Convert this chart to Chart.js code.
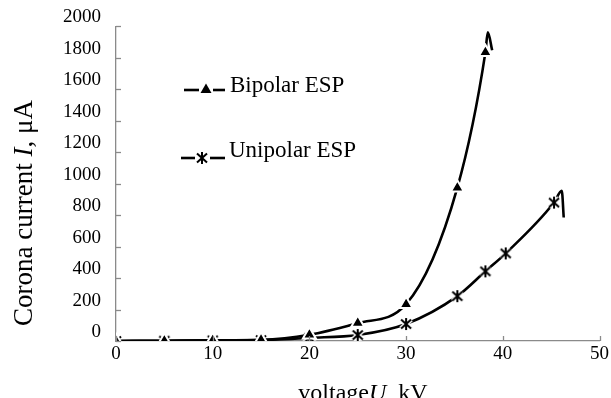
<!DOCTYPE html>
<html>
<head>
<title>Corona current vs voltage</title>
<script src="https://cdn.jsdelivr.net/npm/chart.js"></script>
<style>
  body { margin: 0; background: #fff; }
  .chart-container { position: relative; width: 611px; height: 398px; }
</style>
</head>
<body>
<div class="chart-container"><canvas id="myChart"></canvas></div>
<script>
// values (kV, µA)
const bipolarU = [0, 5, 10, 15, 20, 25, 30, 35.3, 38.2, 38.45, 38.9];
const bipolarI = [0, 2, 5, 8, 40, 114, 234, 975, 1835, 1962, 1848];
const unipolarU = [0, 5, 10, 15, 20, 25, 30, 35.3, 38.2, 40.3, 45.3, 46.1, 46.3];
const unipolarI = [0, 2, 4, 6, 20, 38, 108, 285, 443, 557, 880, 955, 785];
// only the first points carry a marker, the rest is the smoothing tail
const bipolarMarked = 9;
const unipolarMarked = 11;
const seriesNames = ['Bipolar ESP', 'Unipolar ESP'];
const xTicks = [0, 10, 20, 30, 40, 50];
const yTicks = [0, 200, 400, 600, 800, 1000, 1200, 1400, 1600, 1800, 2000];

const serif = '"Liberation Serif", "Times New Roman", serif';
const axisGrey = '#8a8a8a';

// asterisk marker
function makeStar() {
  const c = document.createElement('canvas');
  c.width = 18; c.height = 18;
  const g = c.getContext('2d');
  const arms = [[9, 3, 9, 15], [4, 4.5, 14, 13.5], [14, 4.5, 4, 13.5]];
  const stroke = (col, w) => {
    g.strokeStyle = col; g.lineWidth = w;
    arms.forEach(a => { g.beginPath(); g.moveTo(a[0], a[1]); g.lineTo(a[2], a[3]); g.stroke(); });
  };
  stroke('#fff', 5);
  stroke('#000', 2);
  return c;
}
const star = makeStar();

function toPoints(xs, ys) {
  return xs.map((x, i) => ({ x: x, y: ys[i] }));
}

// inner tick marks, axis titles and the in-plot legend
const extras = {
  id: 'extras',
  afterDraw(chart) {
    const ctx = chart.ctx;
    const xs = chart.scales.x, ys = chart.scales.y;
    const area = chart.chartArea;
    ctx.save();
    ctx.strokeStyle = axisGrey;
    ctx.lineWidth = 1.3;
    xTicks.forEach(v => {
      const px = Math.round(xs.getPixelForValue(v)) + 0.5;
      ctx.beginPath(); ctx.moveTo(px, area.bottom); ctx.lineTo(px, area.bottom - 5); ctx.stroke();
    });
    yTicks.forEach(v => {
      const py = Math.round(ys.getPixelForValue(v)) + 0.5;
      ctx.beginPath(); ctx.moveTo(area.left, py); ctx.lineTo(area.left + 5, py); ctx.stroke();
    });

    // axis titles with italic symbols
    const drawMixed = (parts, size) => {
      let total = 0;
      parts.forEach(p => {
        ctx.font = (p[1] ? 'italic ' : '') + size + 'px ' + serif;
        total += ctx.measureText(p[0]).width;
      });
      let x = -total / 2;
      parts.forEach(p => {
        ctx.font = (p[1] ? 'italic ' : '') + size + 'px ' + serif;
        ctx.fillText(p[0], x, 0);
        x += ctx.measureText(p[0]).width;
      });
    };
    ctx.fillStyle = '#000';
    ctx.textAlign = 'left';
    ctx.textBaseline = 'alphabetic';
    ctx.save();
    ctx.translate(363, 400);
    drawMixed([['voltage', false], ['U', true], [', kV', false]], 24);
    ctx.restore();
    ctx.save();
    ctx.translate(32, 213);
    ctx.rotate(-Math.PI / 2);
    drawMixed([['Corona current ', false], ['I', true], [', \u03bcA', false]], 27);
    ctx.restore();

    // legend
    ctx.strokeStyle = '#000';
    ctx.lineWidth = 2.6;
    const seg = (x1, x2, y) => { ctx.beginPath(); ctx.moveTo(x1, y); ctx.lineTo(x2, y); ctx.stroke(); };
    seg(184, 199, 90); seg(213, 225, 90);
    ctx.beginPath();
    ctx.moveTo(206, 83.5); ctx.lineTo(211.5, 93); ctx.lineTo(200.5, 93); ctx.closePath();
    ctx.fillStyle = '#000'; ctx.fill();
    seg(181, 195, 158); seg(210, 225, 158);
    ctx.drawImage(star, 202 - 9, 158 - 9);
    ctx.fillStyle = '#000';
    ctx.font = '23px ' + serif;
    ctx.textBaseline = 'middle';
    ctx.fillText(seriesNames[0], 230, 86);
    ctx.fillText(seriesNames[1], 229, 151);
    ctx.restore();
  }
};

const ctx = document.getElementById('myChart').getContext('2d');
const myChart = new Chart(ctx, {
  type: 'line',
  data: {
    datasets: [{
      label: seriesNames[0],
      data: toPoints(bipolarU, bipolarI),
      borderColor: '#000',
      borderWidth: 2.6,
      cubicInterpolationMode: 'monotone',
      pointStyle: 'triangle',
      pointRadius: c => c.dataIndex < bipolarMarked ? 7.5 : 0,
      pointBackgroundColor: '#000',
      pointBorderColor: '#fff',
      pointBorderWidth: 2
    }, {
      label: seriesNames[1],
      data: toPoints(unipolarU, unipolarI),
      borderColor: '#000',
      borderWidth: 2.6,
      cubicInterpolationMode: 'monotone',
      pointStyle: star,
      pointRadius: c => c.dataIndex < unipolarMarked ? 6 : 0
    }]
  },
  options: {
    responsive: true,
    maintainAspectRatio: false,
    animation: false,
    events: [],
    layout: { padding: { top: 25, right: 8, left: 0, bottom: 0 } },
    plugins: { legend: { display: false }, tooltip: { enabled: false } },
    scales: {
      x: {
        type: 'linear',
        min: 0, max: 50,
        afterBuildTicks: s => { s.ticks = xTicks.map(v => ({ value: v })); },
        afterFit: s => { s.height = 57; },
        grid: { drawOnChartArea: false, drawTicks: false },
        border: { color: axisGrey, width: 1.3 },
        ticks: { color: '#000', font: { family: serif, size: 19 }, padding: 2, maxRotation: 0,
                 callback: v => String(v) }
      },
      y: {
        min: 0, max: 2000,
        afterBuildTicks: s => { s.ticks = yTicks.map(v => ({ value: v })); },
        afterFit: s => { s.width = 116; },
        grid: { drawOnChartArea: false, drawTicks: false },
        border: { color: axisGrey, width: 1.3 },
        ticks: { color: '#000', font: { family: serif, size: 19 }, padding: 15, labelOffset: -9,
                 callback: v => String(v) }
      }
    }
  },
  plugins: [extras]
});
</script>
</body>
</html>
